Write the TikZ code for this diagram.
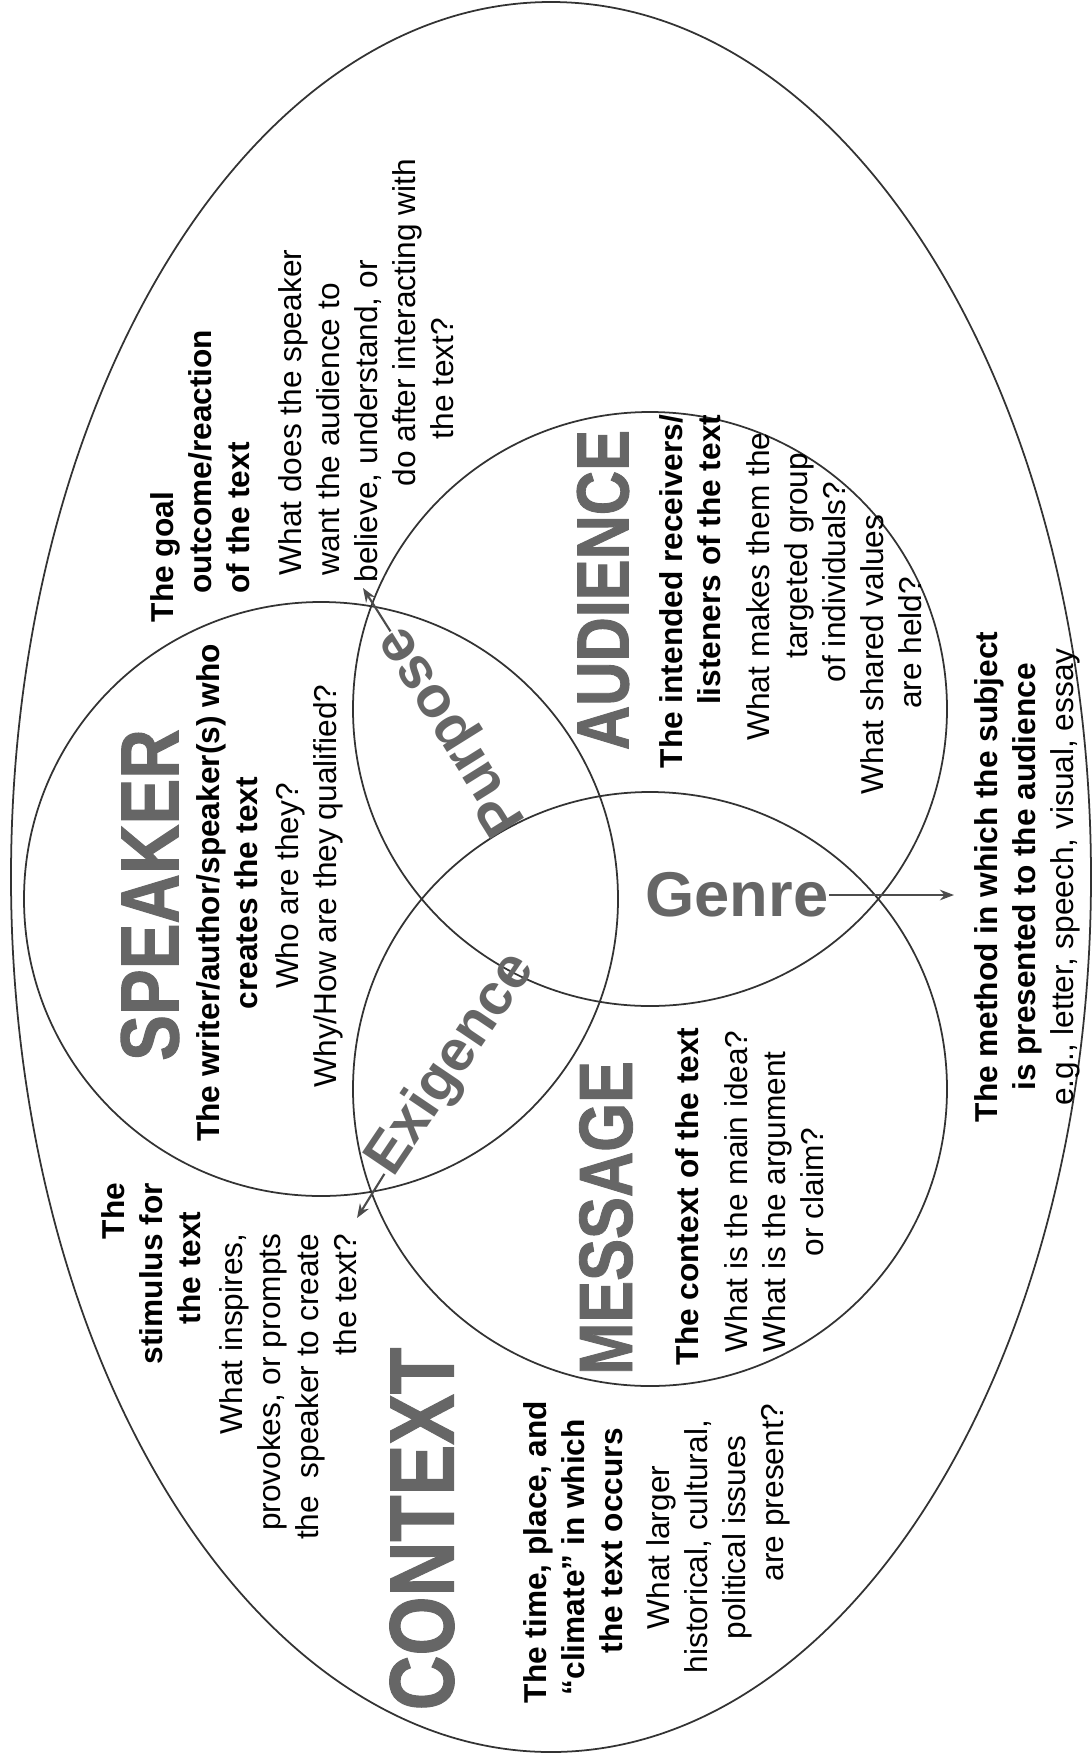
\documentclass[tikz,border=0pt]{standalone}
\usepackage{fontspec}
\setmainfont{Liberation Sans}
\newfontfamily\headfont[FakeStretch=0.83,FakeBold=1.2]{Liberation Sans}
\usetikzlibrary{arrows.meta}

\begin{document}
\begin{tikzpicture}[x=0.01cm,y=-0.01cm
    , every node/.style={inner sep=0pt}
    , ring/.style={draw=black!80,line width=0.5pt}
    , pointer/.style={draw=black!70,line width=0.6pt,-{Stealth[length=4pt,width=3pt]}}
    , bigword/.style={rotate=90,text=\ink,font=\headfont\bfseries\fontsize{#1}{#1}\selectfont}
    , lenslabel/.style={text=\ink,font=\bfseries\fontsize{#1}{#1}\selectfont}
    , boldtext/.style={rotate=90,font=\fontsize{9}{10.8}\selectfont\bfseries}
    , plaintext/.style={rotate=90,font=\fontsize{9}{10.8}\selectfont}
]
    \def\ink{black!60}
    \useasboundingbox (0,0) rectangle (1092,1754);

    % Context ring and the three circles.
    \draw[ring] (551,877) ellipse [x radius=540, y radius=875];
    \foreach \cx/\cy in {321/899, 650/709, 650/1089}
        \draw[ring] (\cx,\cy) circle (297);

    % Speaker
    \node[bigword=23.5] (speaker) at (150,895) {SPEAKER};
    \node[boldtext,align=center] (speakerdef) at (227,893)
        {The writer/author/speaker(s) who\\creates the text};
    \node[plaintext,align=center] (speakerq) at (309,886)
        {Who are they?\\Why/How are they qualified?};

    % Purpose
    \node[boldtext,align=left,anchor=west] (goaldef) at (200,623)
        {The goal\\\hspace*{8.2pt}outcome/reaction\\\hspace*{8.2pt}of the text};
    \node[plaintext,align=left,anchor=west] (goalq) at (366,583)
        {\hspace*{2pt}What does the speaker\\\hspace*{2pt}want the audience to\\believe, understand, or\\\hspace*{27.3pt}do after interacting with\\\hspace*{40.7pt}the text?};
    \node[lenslabel=16.5,rotate=122] (purpose) at (453,730) {Purpose};
    \coordinate (purposetip) at (363,588);
    \draw[pointer] (purpose) -- (purposetip);

    % Audience
    \node[bigword=21] (audience) at (603,590) {AUDIENCE};
    \node[boldtext,align=right,anchor=east] (audiencedef) at (690,414)
        {The intended receivers/\\listeners of the text};
    \node[plaintext,align=right,anchor=east] (audienceq) at (834,432)
        {What makes them the\\targeted group\hspace*{5.7pt}\mbox{}\\of individuals?\hspace*{13.9pt}\mbox{}\\What shared values\hspace*{23.3pt}\mbox{}\\are held?\hspace*{41pt}\mbox{}};

    % Genre
    \node[lenslabel=18] (genre) at (737,895) {Genre};
    \coordinate (genretip) at (954,895);
    \draw[pointer] (genre) -- (genretip);
    \node[boldtext,align=center] (genredef) at (1008,877)
        {The method in which the subject\\is presented to the audience};
    \node[plaintext] (genreq) at (1065,877) {e.g., letter, speech, visual, essay};

    % Message
    \node[bigword=21.5] (message) at (606,1218) {MESSAGE};
    \node[boldtext,anchor=west] (messagedef) at (687,1366) {The context of the text};
    \node[plaintext,align=left,anchor=west] (messageq) at (774,1353)
        {What is the main idea?\\What is the argument\\\hspace*{27.3pt}or claim?};

    % Exigence
    \node[lenslabel=16.5,rotate=56] (exigence) at (452,1065) {Exigence};
    \coordinate (exigencetip) at (357,1218);
    \draw[pointer] (exigence) -- (exigencetip);
    \node[boldtext,align=left,anchor=west] (exigencedef) at (151,1365)
        {\hspace*{35.6pt}The\\stimulus for\\\hspace*{11.4pt}the text};
    \node[plaintext,align=right,anchor=east] (exigenceq) at (288,1233)
        {What inspires,\\provokes, or prompts\\the\ \ speaker to create\\the text?};

    % Context
    \node[bigword=26] (context) at (422,1529) {CONTEXT};
    \node[boldtext,align=left,anchor=west] (contextdef) at (573,1704)
        {The time, place, and\\\hspace*{2.3pt}“climate” in which\\\hspace*{14.2pt}the text occurs};
    \node[plaintext,align=left,anchor=west] (contextq) at (718,1674)
        {\hspace*{12.5pt}What larger\\historical, cultural,\\\hspace*{9.7pt}political issues\\\hspace*{26.2pt}are present?};

\end{tikzpicture}
\end{document}
